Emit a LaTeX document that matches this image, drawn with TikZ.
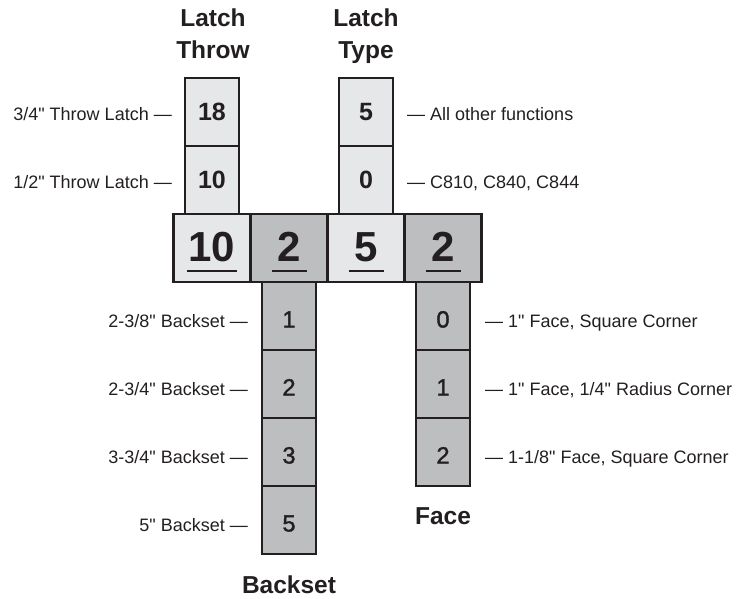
\documentclass[tikz,border=0pt]{standalone}
\usepackage{fontspec}
\setmainfont{Liberation Sans}
\newfontfamily\medfont{Liberation Sans}[FakeBold=1.6]
\newfontfamily\plainq{Liberation Sans}
\newcommand\dq{{\plainq"}}
\definecolor{lightc}{HTML}{E6E7E8}
\definecolor{darkc}{HTML}{BCBEC0}
\definecolor{ink}{HTML}{231F20}
\begin{document}
\begin{tikzpicture}[x=1pt,y=-1pt,
  cell/.style={draw=ink, line width=2.6pt, inner sep=0pt, outer sep=0pt, rectangle},
  colcell/.style={cell, minimum width=54pt, minimum height=68pt},
  maincell/.style={cell, minimum width=77pt, minimum height=68pt},
  lc/.style={fill=lightc}, dc/.style={fill=darkc},
  topnum/.style={font=\fontsize{25}{25}\selectfont\bfseries, text=ink, inner sep=0pt, anchor=base},
  botnum/.style={font=\medfont\fontsize{23.5}{23.5}\selectfont, text=ink, inner sep=0pt, anchor=base},
  mainnum/.style={font=\fontsize{42}{42}\selectfont\bfseries, text=ink, inner sep=0pt, anchor=base},
  head/.style={font=\fontsize{24.5}{24.5}\selectfont\bfseries, text=ink, inner sep=0pt, anchor=base},
  lab/.style={font=\fontsize{18}{18}\selectfont, text=ink, inner sep=0pt},
  ul/.style={draw=ink, line width=2.6pt}
]
\useasboundingbox (0,0) rectangle (738,598);

% headings
\node[head] (h1a) at (213,26.7) {Latch};
\node[head] (h1b) at (213,58.3) {Throw};
\node[head] (h2a) at (366,26.7) {Latch};
\node[head] (h2b) at (366,58.3) {Type};

% latch throw column
\node[colcell,lc] (t18) at (212,112) {};
\node[colcell,lc] (t10) at (212,180) {};
% latch type column
\node[colcell,lc] (y5) at (366,112) {};
\node[colcell,lc] (y0) at (366,180) {};
% backset column
\node[colcell,dc] (b1) at (289,316) {};
\node[colcell,dc] (b2) at (289,384) {};
\node[colcell,dc] (b3) at (289,452) {};
\node[colcell,dc] (b5) at (289,520) {};
% face column
\node[colcell,dc] (f0) at (443,316) {};
\node[colcell,dc] (f1) at (443,384) {};
\node[colcell,dc] (f2) at (443,452) {};

% main row
\node[maincell,lc] (m1) at (212,248) {};
\node[maincell,dc] (m2) at (289,248) {};
\node[maincell,lc] (m3) at (366,248) {};
\node[maincell,dc] (m4) at (443,248) {};

% column numbers
\node[topnum] (nt18) at (212,120) {18};
\node[topnum] (nt10) at (212,188) {10};
\node[topnum] (ny5) at (366,120) {5};
\node[topnum] (ny0) at (366,188) {0};
\node[botnum] (nb1) at (289,327.5) {1};
\node[botnum] (nb2) at (289,395.5) {2};
\node[botnum] (nb3) at (289,463.5) {3};
\node[botnum] (nb5) at (289,531.5) {5};
\node[botnum] (nf0) at (443,327.5) {0};
\node[botnum] (nf1) at (443,395.5) {1};
\node[botnum] (nf2) at (443,463.5) {2};

% main numbers
\node[mainnum] (nm1) at (212,261) {10};
\node[mainnum] (nm2) at (289,261) {2};
\node[mainnum] (nm3) at (366,261) {5};
\node[mainnum] (nm4) at (443,261) {2};
\draw[ul] (187,271) -- (237,271);
\draw[ul] (271.5,271) -- (306.5,271);
\draw[ul] (348.5,271) -- (383.5,271);
\draw[ul] (425.5,271) -- (460.5,271);

% side labels
\node[lab,anchor=base east] (l1) at (172,120) {3/4\dq{} Throw Latch —};
\node[lab,anchor=base east] (l2) at (172,188) {1/2\dq{} Throw Latch —};
\node[lab,anchor=base west] (r1) at (407,120) {— All other functions};
\node[lab,anchor=base west] (r2) at (407,188) {— C810, C840, C844};
\node[lab,anchor=base east] (lb1) at (248,327.5) {2-3/8\dq{} Backset —};
\node[lab,anchor=base east] (lb2) at (248,395.5) {2-3/4\dq{} Backset —};
\node[lab,anchor=base east] (lb3) at (248,463.5) {3-3/4\dq{} Backset —};
\node[lab,anchor=base east] (lb5) at (248,531.5) {5\dq{} Backset —};
\node[lab,anchor=base west] (rf0) at (485,327.5) {— 1\dq{} Face, Square Corner};
\node[lab,anchor=base west] (rf1) at (485,395.5) {— 1\dq{} Face, 1/4\dq{} Radius Corner};
\node[lab,anchor=base west] (rf2) at (485,463.5) {— 1-1/8\dq{} Face, Square Corner};

% bottom headings
\node[head] (hf) at (443,524.5) {Face};
\node[head] (hb) at (289,593) {Backset};
\end{tikzpicture}
\end{document}
